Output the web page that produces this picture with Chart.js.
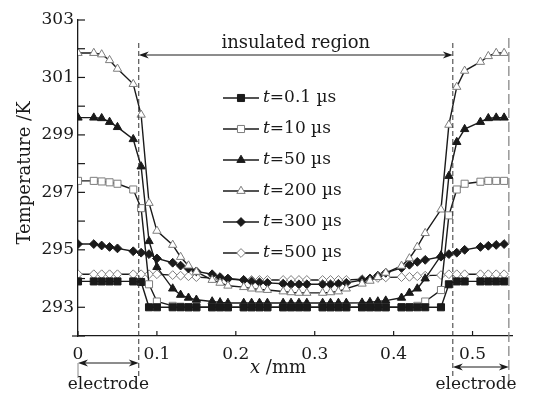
<!DOCTYPE html>
<html>
<head>
<meta charset="utf-8">
<script src="https://cdn.jsdelivr.net/npm/chart.js@4.4.0/dist/chart.umd.min.js"></script>
<style>
  html, body { margin: 0; padding: 0; background: #fff; }
</style>
</head>
<body>
<canvas id="tempChart" width="533" height="394"></canvas>
<script>
// positions along the gap, mm
const X_MM = [0, 0.02, 0.03, 0.04, 0.05, 0.07, 0.08, 0.09, 0.10, 0.12, 0.13, 0.14, 0.15,
  0.17, 0.18, 0.19, 0.21, 0.22, 0.23, 0.24, 0.26, 0.27, 0.28, 0.29, 0.31, 0.32, 0.33, 0.34,
  0.36, 0.37, 0.38, 0.39, 0.41, 0.42, 0.43, 0.44, 0.46, 0.47, 0.48, 0.49, 0.51, 0.52, 0.53, 0.54];

// temperature (K) for each time
const T_0_1 = [293.9, 293.9, 293.9, 293.9, 293.9, 293.9, 293.88, 293.0, 293.0, 293.0, 293.0, 293.0, 293.0,
  293.0, 293.0, 293.0, 293.0, 293.0, 293.0, 293.0, 293.0, 293.0, 293.0, 293.0, 293.0, 293.0, 293.0, 293.0,
  293.0, 293.0, 293.0, 293.0, 293.0, 293.0, 293.0, 293.0, 293.0, 293.8, 293.9, 293.9, 293.9, 293.9, 293.9, 293.9];
const T_10 = [297.4, 297.4, 297.38, 297.35, 297.3, 297.1, 296.45, 293.8, 293.2, 293.05, 293.02, 293.0, 293.0,
  293.0, 293.0, 293.0, 293.0, 293.0, 293.0, 293.0, 293.0, 293.0, 293.0, 293.0, 293.0, 293.0, 293.0, 293.0,
  293.0, 293.0, 293.0, 293.0, 293.0, 293.0, 293.05, 293.2, 293.6, 296.2, 297.1, 297.3, 297.37, 297.4, 297.4, 297.4];
const T_50 = [299.6, 299.6, 299.58, 299.45, 299.27, 298.85, 297.9, 295.3, 294.4, 293.65, 293.43, 293.33, 293.26,
  293.2, 293.17, 293.15, 293.15, 293.15, 293.15, 293.15, 293.15, 293.15, 293.15, 293.15, 293.15, 293.15, 293.15, 293.15,
  293.16, 293.18, 293.2, 293.23, 293.33, 293.5, 293.65, 294.0, 294.8, 297.57, 298.75, 299.2, 299.45, 299.58, 299.6, 299.6];
const T_200 = [301.85, 301.85, 301.8, 301.6, 301.3, 300.77, 299.7, 296.63, 295.66, 295.17, 294.75, 294.45, 294.23,
  293.95, 293.85, 293.75, 293.7, 293.65, 293.62, 293.6, 293.55, 293.52, 293.5, 293.5, 293.5, 293.52, 293.55, 293.65,
  293.82, 293.92, 294.05, 294.2, 294.44, 294.7, 295.1, 295.58, 296.4, 299.35, 300.67, 301.23, 301.54, 301.74, 301.85, 301.85];
const T_300 = [295.2, 295.2, 295.15, 295.1, 295.05, 294.95, 294.9, 294.85, 294.7, 294.55, 294.45, 294.35, 294.25,
  294.15, 294.05, 294.0, 293.95, 293.9, 293.87, 293.85, 293.82, 293.8, 293.8, 293.8, 293.8, 293.8, 293.82, 293.85,
  293.95, 294.0, 294.1, 294.2, 294.37, 294.48, 294.58, 294.65, 294.76, 294.85, 294.9, 295.0, 295.1, 295.14, 295.17, 295.2];
const T_500 = [294.15, 294.15, 294.15, 294.15, 294.15, 294.15, 294.15, 294.15, 294.15, 294.12, 294.1, 294.08, 294.05,
  294.02, 294.0, 293.98, 293.95, 293.95, 293.95, 293.95, 293.95, 293.95, 293.95, 293.95, 293.95, 293.95, 293.95, 293.95,
  293.98, 294.0, 294.02, 294.04, 294.05, 294.06, 294.08, 294.1, 294.12, 294.15, 294.15, 294.15, 294.15, 294.15, 294.15, 294.15];

const TIMES = ['0.1', '10', '50', '200', '300', '500'];
const SERIES = [T_0_1, T_10, T_50, T_200, T_300, T_500];

const Y_TICKS = [292, 293, 294, 295, 296, 297, 298, 299, 300, 301, 302, 303];
const Y_LABELS = [293, 295, 297, 299, 301, 303];
const X_TICKS = [0, 0.1, 0.2, 0.3, 0.4, 0.5];
// electrode / insulated boundaries, mm
const EDGE_LEFT = 0.077, EDGE_RIGHT = 0.475, X_END = 0.546;

const FONT = "'DejaVu Serif', serif";
const INK = '#1a1a1a';
const GREY = '#7d7d7d';

// marker styles per series
const STYLES = [
  { pointStyle: 'rect', radius: 5, fill: INK, stroke: INK },
  { pointStyle: 'rect', radius: 5, fill: '#fff', stroke: GREY },
  { pointStyle: 'triangle', radius: 4.8, fill: INK, stroke: INK },
  { pointStyle: 'triangle', radius: 4.8, fill: '#fff', stroke: GREY },
  { pointStyle: 'rectRot', radius: 4.4, fill: INK, stroke: INK },
  { pointStyle: 'rectRot', radius: 4.4, fill: '#fff', stroke: GREY },
];

const datasets = SERIES.map((vals, i) => ({
  label: 't=' + TIMES[i] + ' µs',
  data: X_MM.map((x, k) => ({ x: x, y: vals[k] })),
  borderColor: INK,
  borderWidth: 1.4,
  pointStyle: STYLES[i].pointStyle,
  pointRadius: STYLES[i].radius,
  pointBackgroundColor: STYLES[i].fill,
  pointBorderColor: STYLES[i].stroke,
  pointBorderWidth: 1,
  tension: 0,
}));

function arrowHead(ctx, x, y, dir) {
  ctx.beginPath();
  ctx.moveTo(x, y);
  ctx.lineTo(x - dir * 10, y - 3.5);
  ctx.lineTo(x - dir * 7, y);
  ctx.lineTo(x - dir * 10, y + 3.5);
  ctx.closePath();
  ctx.fill();
}

function hArrow(ctx, x1, x2, y) {
  ctx.beginPath();
  ctx.moveTo(x1 + 3, y);
  ctx.lineTo(x2 - 3, y);
  ctx.stroke();
  arrowHead(ctx, x1, y, -1);
  arrowHead(ctx, x2, y, 1);
}

const decorations = {
  id: 'decorations',
  afterDraw(chart) {
    const { ctx, scales: { x, y } } = chart;
    ctx.save();
    ctx.strokeStyle = INK;
    ctx.fillStyle = INK;
    ctx.lineWidth = 1.2;

    // inward ticks
    Y_TICKS.forEach(v => {
      const py = y.getPixelForValue(v);
      ctx.beginPath();
      ctx.moveTo(x.left, py);
      ctx.lineTo(x.left + 7, py);
      ctx.stroke();
    });
    X_TICKS.forEach(v => {
      const px = x.getPixelForValue(v);
      ctx.beginPath();
      ctx.moveTo(px, y.bottom);
      ctx.lineTo(px, y.bottom - 5);
      ctx.stroke();
    });
    // little overhang of the x axis on the left
    ctx.beginPath();
    ctx.moveTo(x.left - 6, y.bottom);
    ctx.lineTo(x.left, y.bottom);
    ctx.stroke();

    // boundary lines
    const xl = x.getPixelForValue(EDGE_LEFT);
    const xr = x.getPixelForValue(EDGE_RIGHT);
    const xe = x.getPixelForValue(X_END);
    ctx.lineWidth = 1;
    ctx.setLineDash([5, 3]);
    ctx.strokeStyle = '#333';
    [xl, xr].forEach(px => {
      ctx.beginPath();
      ctx.moveTo(px, 43);
      ctx.lineTo(px, 378);
      ctx.stroke();
    });
    ctx.setLineDash([10, 4]);
    ctx.strokeStyle = '#888';
    ctx.lineWidth = 1.3;
    ctx.beginPath();
    ctx.moveTo(xe, 38);
    ctx.lineTo(xe, 384);
    ctx.stroke();
    ctx.setLineDash([]);

    // insulated region arrow
    ctx.strokeStyle = INK;
    ctx.lineWidth = 1;
    hArrow(ctx, xl, xr, 55);

    // electrode arrows
    const x0 = x.getPixelForValue(0);
    hArrow(ctx, x0, xl, 363);
    hArrow(ctx, xr, xe, 367);
    ctx.strokeStyle = '#888';
    ctx.beginPath();
    ctx.moveTo(x0, 363);
    ctx.lineTo(x0, 378);
    ctx.stroke();

    // texts
    const reg = '17px ' + FONT;
    const ital = 'italic 17px ' + FONT;
    const big = '18px ' + FONT;
    const bigItal = 'italic 18px ' + FONT;
    ctx.fillStyle = INK;
    ctx.font = big;
    ctx.textAlign = 'center';
    ctx.textBaseline = 'middle';
    ctx.fillText('insulated region', (xl + xr) / 2, 43);
    ctx.font = reg;
    ctx.fillText('electrode', (x0 + xl) / 2, 385);
    ctx.fillText('electrode', 476, 385);

    // x axis title with italic x
    ctx.textAlign = 'left';
    ctx.font = bigItal;
    const wx = ctx.measureText('x').width;
    ctx.font = big;
    const wr = ctx.measureText(' /mm').width;
    const sx = 278 - (wx + wr) / 2;
    ctx.font = bigItal;
    ctx.fillText('x', sx, 368);
    ctx.font = big;
    ctx.fillText(' /mm', sx + wx, 368);

    // y axis title
    ctx.save();
    ctx.translate(25, 173);
    ctx.rotate(-Math.PI / 2);
    ctx.textAlign = 'center';
    ctx.font = big;
    ctx.fillText('Temperature /K', 0, 0);
    ctx.restore();

    // legend
    const LEG_Y = [98, 129, 160, 191, 222, 253];
    datasets.forEach((ds, i) => {
      const ly = LEG_Y[i];
      ctx.strokeStyle = INK;
      ctx.lineWidth = 1.4;
      ctx.beginPath();
      ctx.moveTo(223, ly);
      ctx.lineTo(259, ly);
      ctx.stroke();
      ctx.fillStyle = STYLES[i].fill;
      ctx.strokeStyle = STYLES[i].stroke;
      ctx.lineWidth = 1;
      Chart.helpers.drawPoint(ctx, {
        pointStyle: STYLES[i].pointStyle,
        radius: STYLES[i].radius,
        rotation: 0,
        borderWidth: 1,
      }, 241, ly);
      ctx.fillStyle = INK;
      ctx.textAlign = 'left';
      ctx.font = ital;
      ctx.fillText('t', 263, ly);
      const wt = ctx.measureText('t').width;
      ctx.font = reg;
      ctx.fillText('=' + TIMES[i] + ' µs', 263 + wt, ly);
    });

    ctx.restore();
  }
};

new Chart(document.getElementById('tempChart'), {
  type: 'line',
  data: { datasets: datasets },
  options: {
    responsive: false,
    devicePixelRatio: 1,
    animation: false,
    layout: { padding: { top: 20, right: 21, left: 0, bottom: 0 } },
    plugins: {
      legend: { display: false },
      tooltip: { enabled: false },
    },
    scales: {
      x: {
        type: 'linear',
        min: 0,
        max: 0.55,
        afterBuildTicks: s => { s.ticks = X_TICKS.map(v => ({ value: v })); },
        afterFit: s => { s.height = 58; },
        grid: { display: false, drawTicks: false },
        border: { display: true, color: INK, width: 1.3 },
        ticks: {
          padding: 8,
          color: INK,
          font: { family: FONT, size: 17 },
          maxRotation: 0,
          callback: v => (v === 0 ? '0' : v.toFixed(1)),
        },
      },
      y: {
        type: 'linear',
        min: 292,
        max: 303,
        afterBuildTicks: s => { s.ticks = Y_TICKS.map(v => ({ value: v })); },
        afterFit: s => { s.width = 78; },
        grid: { display: false, drawTicks: false },
        border: { display: true, color: INK, width: 1.3 },
        ticks: {
          padding: 4,
          color: INK,
          font: { family: FONT, size: 17 },
          callback: v => (Y_LABELS.includes(v) ? String(v) : ''),
        },
      },
    },
  },
  plugins: [decorations],
});
</script>
</body>
</html>
